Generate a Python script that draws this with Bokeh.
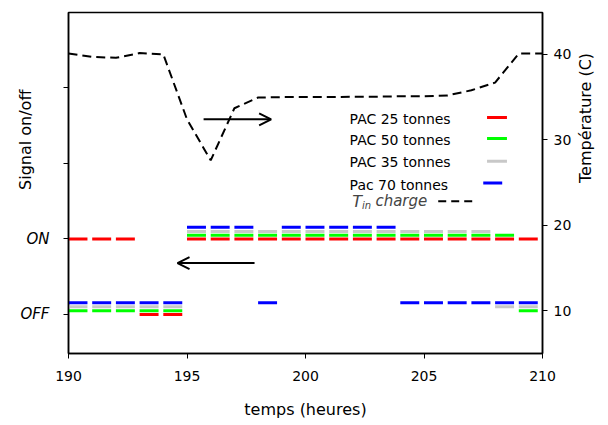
import math
from bokeh.plotting import figure
from bokeh.models import Range1d, LinearAxis, FixedTicker, Arrow, OpenHead, Label
from bokeh.embed import file_html
from bokeh.resources import INLINE

# ---- data ----
hours = list(range(190, 210))
pac25 = [1, 1, 1, 0, 0, 1, 1, 1, 1, 1, 1, 1, 1, 1, 1, 1, 1, 1, 1, 1]
pac50 = [0, 0, 0, 0, 0, 1, 1, 1, 1, 1, 1, 1, 1, 1, 1, 1, 1, 1, 1, 0]
pac35 = [0, 0, 0, 0, 0, 1, 1, 1, 1, 1, 1, 1, 1, 1, 1, 1, 1, 1, 0, 0]
pac70 = [0, 0, 0, 0, 0, 1, 1, 1, 0, 1, 1, 1, 1, 1, 0, 0, 0, 0, 0, 0]

temp_time = [190, 191, 192, 193, 194, 195, 196, 197, 198, 199, 200, 201, 202,
             203, 204, 205, 206, 207, 208, 209, 210]
temp_vals = [40.1, 39.7, 39.6, 40.15, 40.0, 32.4, 27.6, 33.7, 34.95, 35.0, 35.0,
             35.0, 35.05, 35.05, 35.1, 35.1, 35.2, 35.8, 36.7, 40.1, 40.1]

x_ticks = [190, 195, 200, 205, 210]
signal_ticks = [0, 1, 2, 3]
signal_labels = {0: "OFF", 1: "ON", 2: "", 3: ""}
temp_ticks = [10, 20, 30, 40]

series = [
    ("PAC 25 tonnes", pac25, "#ff0000", 0.0),
    ("PAC 50 tonnes", pac50, "#00ff00", 0.05),
    ("PAC 35 tonnes", pac35, "#c8c8c8", 0.10),
    ("Pac 70 tonnes", pac70, "#0000ff", 0.155),
]

FONT = "DejaVu Sans"
DASH_LEN = 0.8
NBSP = "\u00a0"

p = figure(width=608, height=425, output_backend="svg", toolbar_location=None,
           x_range=Range1d(190, 210), y_range=Range1d(-0.518, 4.0),
           min_border_left=68, min_border_right=66, min_border_top=12,
           min_border_bottom=72)
p.extra_y_ranges = {"temp": Range1d(5.0, 44.9)}
p.xgrid.visible = False
p.ygrid.visible = False
p.outline_line_color = "black"
p.outline_line_width = 1.5
p.background_fill_color = "white"
p.border_fill_color = "white"

# x axis
xa = p.xaxis[0]
xa.ticker = FixedTicker(ticks=x_ticks)
xa.axis_label = "temps (heures)"
xa.axis_label_standoff = 16
xa.axis_label_text_font = FONT
xa.axis_label_text_font_size = "16px"
xa.axis_label_text_font_style = "normal"
xa.major_label_text_font = FONT
xa.major_label_text_font_size = "14px"
xa.major_label_standoff = 12

# left axis (label shifted upward with leading no-break spaces)
ya = p.yaxis[0]
ya.ticker = FixedTicker(ticks=signal_ticks)
ya.major_label_overrides = signal_labels
ya.major_label_text_font = FONT
ya.major_label_text_font_size = "15px"
ya.major_label_text_font_style = "italic"
ya.major_label_standoff = 14
ya.axis_label = NBSP * 17 + "Signal on/off"
ya.axis_label_standoff = -18
ya.axis_label_text_font = FONT
ya.axis_label_text_font_size = "16px"
ya.axis_label_text_font_style = "normal"

# right axis (label reads bottom-to-top, starting from the panel middle)
ra = LinearAxis(y_range_name="temp", ticker=FixedTicker(ticks=temp_ticks))
ra.axis_label = "Température (C)"
ra.axis_label_orientation = math.pi / 2
ra.axis_label_standoff = 11
ra.axis_label_text_font = FONT
ra.axis_label_text_font_size = "16px"
ra.axis_label_text_font_style = "normal"
ra.major_label_text_font = FONT
ra.major_label_text_font_size = "14px"
ra.major_label_standoff = 6
p.add_layout(ra, "right")

for ax in (xa, ya, ra):
    ax.minor_tick_line_color = None
    ax.major_tick_out = 5
    ax.major_tick_in = 0
    ax.axis_line_color = "black"
    ax.axis_line_width = 1.5
    ax.major_tick_line_color = "black"
    ax.major_label_text_color = "black"
    ax.axis_label_text_color = "black"

# on/off signals
for name, vals, color, off in series:
    x0 = [h for h in hours]
    x1 = [h + DASH_LEN for h in hours]
    y = [v + off for v in vals]
    p.segment(x0=x0, y0=y, x1=x1, y1=y, line_color=color, line_width=3)

# temperature curve
p.line(temp_time, temp_vals, y_range_name="temp", line_color="black",
       line_width=2, line_dash="9 5")

# arrows
p.add_layout(Arrow(x_start=195.7, y_start=32.4, x_end=198.55, y_end=32.4,
                   y_range_name="temp", line_width=2, line_color="black",
                   end=OpenHead(size=12, line_width=2, line_color="black")))
p.add_layout(Arrow(x_start=197.85, y_start=0.68, x_end=194.6, y_end=0.68,
                   line_width=2, line_color="black",
                   end=OpenHead(size=12, line_width=2, line_color="black")))

# legend (text then sample line)
legend_y_text = [2.587, 2.31, 2.02, 1.72]
legend_y_line = [2.61, 2.33, 2.03, 1.74]
legend_x0 = [207.66, 207.66, 207.66, 207.5]
legend_x1 = [208.5, 208.5, 208.5, 208.3]
for (name, vals, color, off), yt, yl, lx0, lx1 in zip(series, legend_y_text,
                                                      legend_y_line, legend_x0, legend_x1):
    p.add_layout(Label(x=201.86, y=yt, text=name, text_baseline="middle",
                       text_font=FONT, text_font_size="14px", text_color="black"))
    p.segment(x0=[lx0], y0=[yl], x1=[lx1], y1=[yl], line_color=color, line_width=3)

p.add_layout(Label(x=201.97, y=1.5, text="T", text_baseline="middle",
                   text_font=FONT, text_font_size="16px", text_font_style="italic"))
p.add_layout(Label(x=202.38, y=1.44, text="in", text_baseline="middle",
                   text_font=FONT, text_font_size="10px", text_font_style="italic"))
p.add_layout(Label(x=202.95, y=1.5, text="charge", text_baseline="middle",
                   text_font=FONT, text_font_size="15px", text_font_style="italic"))
p.segment(x0=[205.6], y0=[1.5], x1=[207.2], y1=[1.5], line_color="black",
          line_width=2, line_dash="8 5")

open("out.html", "w").write(file_html(p, INLINE))
